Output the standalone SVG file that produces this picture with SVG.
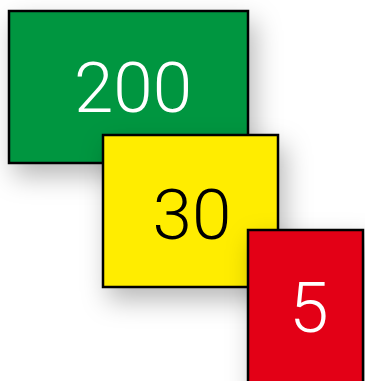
<svg xmlns="http://www.w3.org/2000/svg" width="365" height="381" viewBox="0 0 365 381">
<defs>
<filter id="sh" x="-40%" y="-40%" width="180%" height="180%">
<feDropShadow dx="6" dy="12" stdDeviation="13" flood-color="#000" flood-opacity="0.28"/>
</filter>
<style>
.box{stroke:#000;stroke-width:2.5;filter:url(#sh)}
.lbl{font-family:Roboto,"Liberation Sans",sans-serif;font-weight:300;font-size:71px;text-anchor:middle}
</style>
</defs>
<rect width="365" height="381" fill="#fff"/>
<g id="n200">
<rect class="box" x="9" y="11" width="239" height="152" fill="#009640"/>
<text class="lbl" x="133" y="112" fill="#fff">200</text>
</g>
<g id="n30">
<rect class="box" x="103" y="135" width="175" height="152" fill="#FFED00"/>
<text class="lbl" x="192" y="239" fill="#000">30</text>
</g>
<g id="n5">
<rect class="box" x="248" y="230" width="115" height="160" fill="#E30613"/>
<text class="lbl" x="309" y="332" fill="#fff">5</text>
</g>
<g id="connectors"/>
</svg>
